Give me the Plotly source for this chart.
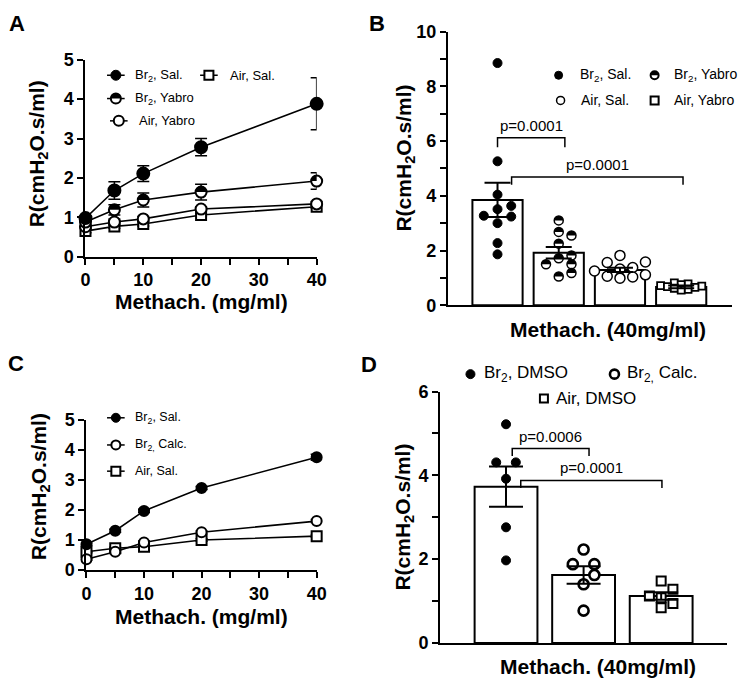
import plotly.graph_objects as go

# page has an 8px body margin; figure is sized so the page is exactly 750x691
PAGE_W, PAGE_H, BODY_M = 750, 691, 8
FW, FH = PAGE_W - 2 * BODY_M, PAGE_H - 2 * BODY_M
FONT = "Liberation Sans, Arial, Helvetica, sans-serif"

# ---------------- data ----------------
dose = [0, 5, 10, 20, 40]

# Panel A (mean +/- SEM)
a_br2_sal = [0.98, 1.68, 2.11, 2.78, 3.88]
a_br2_sal_err = [0.06, 0.22, 0.20, 0.22, 0.66]
a_br2_yab = [0.88, 1.19, 1.44, 1.64, 1.92]
a_br2_yab_err = [0.05, 0.13, 0.18, 0.20, 0.21]
a_air_yab = [0.76, 0.88, 0.96, 1.21, 1.34]
a_air_yab_err = [0.05, 0.08, 0.06, 0.05, 0.05]
a_air_sal = [0.65, 0.77, 0.83, 1.06, 1.27]
a_air_sal_err = [0.04, 0.05, 0.05, 0.04, 0.04]

# Panel B (individual animals at 40 mg/ml)
b_groups = ["Br<sub>2</sub>, Sal.", "Br<sub>2</sub>, Yabro", "Air, Sal.", "Air, Yabro"]
b_br2_sal = [8.85, 5.26, 4.04, 3.63, 3.51, 3.27, 3.24, 3.00, 2.27, 1.86]
b_br2_yab = [3.10, 2.68, 2.55, 2.25, 1.82, 1.72, 1.50, 1.50, 1.18, 1.05]
b_air_sal = [1.82, 1.58, 1.56, 1.38, 1.32, 1.25, 1.11, 1.06, 1.03, 0.99]
b_air_yab = [0.82, 0.78, 0.75, 0.72, 0.70, 0.68, 0.65, 0.62, 0.58, 0.55]
b_mean = [3.85, 1.92, 1.29, 0.67]
b_sem = [0.63, 0.21, 0.08, 0.05]
b_pvals = ["p=0.0001", "p=0.0001"]
# bracket: left x, right x, bar height, left tip, right tip (data units)
b_brackets = [(0.0, 1.1, 6.12, 5.77, 5.77), (0.23, 3.03, 4.69, 4.40, 4.40)]

# Panel C (mean +/- SEM)
c_br2_sal = [0.86, 1.31, 1.97, 2.73, 3.75]
c_br2_sal_err = [0.04, 0.05, 0.05, 0.05, 0.10]
c_br2_calc = [0.36, 0.61, 0.92, 1.26, 1.63]
c_br2_calc_err = [0.03, 0.04, 0.05, 0.04, 0.05]
c_air_sal = [0.61, 0.73, 0.78, 1.00, 1.13]
c_air_sal_err = [0.03, 0.03, 0.04, 0.04, 0.04]

# Panel D
d_groups = ["Br<sub>2</sub>, DMSO", "Br<sub>2,</sub> Calc.", "Air, DMSO"]
d_br2_dmso = [5.22, 4.31, 4.31, 3.92, 2.76, 1.97]
d_br2_calc = [2.23, 1.88, 1.88, 1.62, 1.40, 0.77]
d_air_dmso = [1.48, 1.28, 1.12, 1.08, 0.94, 0.84]
d_mean = [3.73, 1.62, 1.12]
d_sem = [0.48, 0.21, 0.09]
d_pvals = ["p=0.0006", "p=0.0001"]
d_brackets = [(0.08, 1.07, 4.64, 4.46, 4.46), (0.19, 2.01, 3.88, 3.70, 3.70)]

# ---------------- geometry (page pixels) ----------------
A_X, A_Y = (82, 318), (254, 51)
B_X, B_Y = (452, 742), (304, 22)
C_X, C_Y = (83, 318), (577, 422)
D_X, D_Y = (444, 737), (652, 393)
B_XR, B_YR = [-0.81, 3.83], [0, 10]
D_XR, D_YR = [-0.85, 2.85], [0, 6]


def px(x):
    return min(1.0, max(0.0, (x - BODY_M) / FW))


def py(y):
    return min(1.0, max(0.0, 1 - (y - BODY_M) / FH))


def swarm(vals, diam_px, ppu_x, ppu_y, step_px, factor=0.95):
    """Column-scatter layout: ascending values, centre first, then right, then left;
    tied values are spread symmetrically."""
    cands = [0.0]
    for m in range(1, 12):
        cands += [m * step_px, -m * step_px]
    placed = []
    offs = [0.0] * len(vals)
    for v in sorted(set(vals)):
        idx = [i for i, w in enumerate(vals) if w == v]
        n = len(idx)
        yy = v * ppu_y
        if n == 1:
            chosen = [0.0]
            for c in cands:
                if all((c - ox) ** 2 + (yy - oy) ** 2 >= (diam_px * factor) ** 2
                       for ox, oy in placed):
                    chosen = [c]
                    break
        else:
            sym = [s * m * step_px for m in range(1, n + 1) for s in (1, -1)]
            chosen = ([0.0] + sym)[:n] if n % 2 else sym[:n]
        for i, c in zip(idx, chosen):
            placed.append((c, yy))
            offs[i] = c / ppu_x
    return offs


b_ppx = (B_X[1] - B_X[0]) / (B_XR[1] - B_XR[0])
b_ppy = (B_Y[0] - B_Y[1]) / (B_YR[1] - B_YR[0])
d_ppx = (D_X[1] - D_X[0]) / (D_XR[1] - D_XR[0])
d_ppy = (D_Y[0] - D_Y[1]) / (D_YR[1] - D_YR[0])

fig = go.Figure()
annotations = []
shapes = []
K = 0.5523


def half_disc(xa, ya, xref, yref, r):
    k = K * r
    path = (f"M {-r},0 C {-r},{k} {-k},{r} 0,{r} "
            f"C {k},{r} {r},{k} {r},0 Z")
    return dict(type="path", xref=xref, yref=yref, xsizemode="pixel", ysizemode="pixel",
                xanchor=xa, yanchor=ya, path=path, fillcolor="black",
                line=dict(width=0), layer="above")


# ---------------- Panel A ----------------
a_series = [
    (a_air_sal, a_air_sal_err, "square", "white", 10),
    (a_air_yab, a_air_yab_err, "circle", "white", 11),
    (a_br2_yab, a_br2_yab_err, "circle", "white", 11),
    (a_br2_sal, a_br2_sal_err, "circle", "black", 12),
]
for vals, err, sym, fill, size in a_series:
    fig.add_trace(go.Scatter(
        x=dose, y=vals, mode="lines+markers", showlegend=False,
        line=dict(color="black", width=1.6),
        marker=dict(symbol=sym, size=size, color=fill, line=dict(color="black", width=2)),
        error_y=dict(type="data", array=err, color="black", thickness=1.5, width=6),
        xaxis="x", yaxis="y", cliponaxis=False))
for xv, yv in zip(dose, a_br2_yab):
    shapes.append(half_disc(xv, yv, "x", "y", 5.5))

# ---------------- Panel B ----------------
fig.add_trace(go.Bar(x=list(range(4)), y=b_mean, width=0.82, showlegend=False,
                     marker=dict(color="white", line=dict(color="black", width=2)),
                     xaxis="x2", yaxis="y2"))
b_pts = [
    (b_br2_sal, "circle", "black", 9, 1.0, 14, 0.95),
    (b_br2_yab, "circle", "white", 9, 1.5, 13, 0.95),
    (b_air_sal, "circle", "white", 10, 1.5, 13, 0.9),
    (b_air_yab, "square", "white", 7, 1.8, 7, 0.8),
]
for gi, (vals, sym, fill, size, lw, step, fac) in enumerate(b_pts):
    offs = swarm(vals, size, b_ppx, b_ppy, step, fac)
    xs = [gi + o for o in offs]
    fig.add_trace(go.Scatter(
        x=xs, y=vals, name=b_groups[gi], mode="markers", showlegend=False,
        marker=dict(symbol=sym, size=size, color=fill, line=dict(color="black", width=lw)),
        xaxis="x2", yaxis="y2", cliponaxis=False))
    if gi == 1:
        for xv, yv in zip(xs, vals):
            shapes.append(half_disc(xv, yv, "x2", "y2", 4.5))
fig.add_trace(go.Scatter(
    x=list(range(4)), y=b_mean, mode="markers", showlegend=False,
    marker=dict(size=1, color="rgba(0,0,0,0)"),
    error_y=dict(type="data", array=b_sem, color="black", thickness=2, width=13),
    xaxis="x2", yaxis="y2", hoverinfo="skip"))
for (x0, x1, yb, t0, t1), ptxt in zip(b_brackets, b_pvals):
    shapes.append(dict(type="path", xref="x2", yref="y2",
                       path=f"M {x0},{t0} L {x0},{yb} L {x1},{yb} L {x1},{t1}",
                       line=dict(color="black", width=1.5)))
    annotations.append(dict(x=(x0 + x1) / 2, y=yb, xref="x2", yref="y2", text=ptxt,
                            showarrow=False, yanchor="bottom", yshift=2,
                            font=dict(family=FONT, size=15, color="black")))

# ---------------- Panel C ----------------
c_series = [
    (c_air_sal, c_air_sal_err, "square", "white", 10),
    (c_br2_calc, c_br2_calc_err, "circle", "white", 10),
    (c_br2_sal, c_br2_sal_err, "circle", "black", 10),
]
for vals, err, sym, fill, size in c_series:
    fig.add_trace(go.Scatter(
        x=dose, y=vals, mode="lines+markers", showlegend=False,
        line=dict(color="black", width=1.6),
        marker=dict(symbol=sym, size=size, color=fill, line=dict(color="black", width=2)),
        error_y=dict(type="data", array=err, color="black", thickness=1.5, width=6),
        xaxis="x3", yaxis="y3", cliponaxis=False))

# ---------------- Panel D ----------------
fig.add_trace(go.Bar(x=list(range(3)), y=d_mean, width=0.81, showlegend=False,
                     marker=dict(color="white", line=dict(color="black", width=2)),
                     xaxis="x4", yaxis="y4"))
d_pts = [
    (d_br2_dmso, "circle", "black", 9, 1.0, 10),
    (d_br2_calc, "circle", "white", 10, 2.6, 11),
    (d_air_dmso, "square", "white", 9, 2.0, 12),
]
for gi, (vals, sym, fill, size, lw, step) in enumerate(d_pts):
    offs = swarm(vals, size + 1, d_ppx, d_ppy, step)
    xs = [gi + o for o in offs]
    fig.add_trace(go.Scatter(
        x=xs, y=vals, name=d_groups[gi], mode="markers", showlegend=False,
        marker=dict(symbol=sym, size=size, color=fill, line=dict(color="black", width=lw)),
        xaxis="x4", yaxis="y4", cliponaxis=False))
fig.add_trace(go.Scatter(
    x=list(range(3)), y=d_mean, mode="markers", showlegend=False,
    marker=dict(size=1, color="rgba(0,0,0,0)"),
    error_y=dict(type="data", array=d_sem, color="black", thickness=2, width=17),
    xaxis="x4", yaxis="y4", hoverinfo="skip"))
for (x0, x1, yb, t0, t1), ptxt in zip(d_brackets, d_pvals):
    shapes.append(dict(type="path", xref="x4", yref="y4",
                       path=f"M {x0},{t0} L {x0},{yb} L {x1},{yb} L {x1},{t1}",
                       line=dict(color="black", width=1.5)))
    annotations.append(dict(x=(x0 + x1) / 2, y=yb, xref="x4", yref="y4", text=ptxt,
                            showarrow=False, yanchor="bottom", yshift=2,
                            font=dict(family=FONT, size=15, color="black")))

# ---------------- axes ----------------
tickfont = dict(family=FONT, size=18, color="black", weight="bold")
base = dict(showline=True, linecolor="black", linewidth=2, showgrid=False, zeroline=False,
            ticks="outside", tickcolor="black", tickwidth=2, ticklen=6, tickfont=tickfont,
            fixedrange=True)
minor5 = dict(dtick=5, ticks="outside", ticklen=6, tickwidth=2, tickcolor="black", showgrid=False)
minor1 = dict(dtick=1, ticks="outside", ticklen=6, tickwidth=2, tickcolor="black", showgrid=False)
catx = dict(showline=True, linecolor="black", linewidth=2, showgrid=False, zeroline=False,
            ticks="", showticklabels=False, fixedrange=True)

fig.update_layout(
    xaxis=dict(base, domain=[px(A_X[0]), px(A_X[1])], range=[0, 40], dtick=10, tick0=0,
               minor=minor5, anchor="y"),
    yaxis=dict(base, domain=[py(A_Y[0]), py(A_Y[1])], range=[0, 5], dtick=1, anchor="x"),
    xaxis2=dict(catx, domain=[px(B_X[0]), px(B_X[1])], range=B_XR, anchor="y2"),
    yaxis2=dict(base, domain=[py(B_Y[0]), py(B_Y[1])], range=B_YR, dtick=2, minor=minor1,
                anchor="x2"),
    xaxis3=dict(base, domain=[px(C_X[0]), px(C_X[1])], range=[0, 40], dtick=10, tick0=0,
                minor=minor5, anchor="y3"),
    yaxis3=dict(base, domain=[py(C_Y[0]), py(C_Y[1])], range=[0, 5], dtick=1, anchor="x3"),
    xaxis4=dict(catx, domain=[px(D_X[0]), px(D_X[1])], range=D_XR, anchor="y4"),
    yaxis4=dict(base, domain=[py(D_Y[0]), py(D_Y[1])], range=D_YR, dtick=2, minor=minor1,
                anchor="x4"),
)

# ---------------- legends (keys + labels) ----------------
# (label, key x, key y, label x, font size, key style, key size, with line)
legend_items = [
    ("Br<sub>2</sub>, Sal.", 113, 67, 130, 13, "dot", 10, True),
    ("Air, Sal.", 208, 67, 227, 13, "square", 9, True),
    ("Br<sub>2</sub>, Yabro", 113, 91, 130, 13, "half", 10, True),
    ("Air, Yabro", 116, 114, 135, 13, "open", 10, True),
    ("Br<sub>2</sub>, Sal.", 565, 67, 585, 14, "dot", 8, False),
    ("Br<sub>2</sub>, Yabro", 663, 67, 681, 14, "half", 8, False),
    ("Air, Sal.", 567, 93, 586, 14, "openthin", 8, False),
    ("Air, Yabro", 663, 93, 681, 14, "square", 8, False),
    ("Br<sub>2</sub>, Sal.", 113, 420, 130, 12.5, "dot", 9, True),
    ("Br<sub>2,</sub> Calc.", 113, 448, 130, 12.5, "open", 9, True),
    ("Air, Sal.", 113, 475, 130, 12.5, "square", 9, True),
    ("Br<sub>2</sub>, DMSO", 475, 375, 487, 17, "dot", 9, False),
    ("Br<sub>2,</sub> Calc.", 622, 375, 633, 17, "openthick", 9, False),
    ("Air, DMSO", 550, 400, 560, 17, "square", 8, False),
]
for label, kx, ky, lx, fs, style, ksz, with_line in legend_items:
    xa, ya = px(kx), py(ky)
    r = ksz / 2
    if with_line:
        shapes.append(dict(type="line", xref="paper", yref="paper",
                           x0=px(kx - 9), x1=px(kx + 9), y0=ya, y1=ya,
                           line=dict(color="black", width=1.5)))
    common = dict(xref="paper", yref="paper", xsizemode="pixel", ysizemode="pixel",
                  xanchor=xa, yanchor=ya, x0=-r, x1=r, y0=-r, y1=r)
    if style == "dot":
        shapes.append(dict(common, type="circle", fillcolor="black",
                           line=dict(color="black", width=1)))
    elif style == "square":
        shapes.append(dict(common, type="rect", fillcolor="white",
                           line=dict(color="black", width=2)))
    else:
        lw = {"openthin": 1.5, "openthick": 2.6}.get(style, 2)
        shapes.append(dict(common, type="circle", fillcolor="white",
                           line=dict(color="black", width=lw)))
        if style == "half":
            shapes.append(half_disc(xa, ya, "paper", "paper", r))
    annotations.append(dict(x=px(lx), y=ya, xref="paper", yref="paper", text=label,
                            showarrow=False, xanchor="left", yanchor="middle",
                            font=dict(family=FONT, size=fs, color="black")))

# ---------------- titles & panel letters ----------------
ytitle = "R(cmH<sub>2</sub>O.s/ml)"
title_font = dict(family=FONT, size=21, color="black", weight="bold")
for tx, ty, txt, ang in [
    (33, 148, ytitle, -90), (200, 300, "Methach. (mg/ml)", 0),
    (408, 152, ytitle, -90), (615, 329, "Methach. (40mg/ml)", 0),
    (35, 491, ytitle, -90), (200, 625, "Methach. (mg/ml)", 0),
    (407, 522, ytitle, -90), (605, 676, "Methach. (40mg/ml)", 0),
]:
    annotations.append(dict(x=px(tx), y=py(ty), xref="paper", yref="paper", text=txt,
                            textangle=ang, showarrow=False, xanchor="center", yanchor="middle",
                            font=title_font))
for tx, ty, txt in [(12, 14, "A"), (380, 14, "B"), (11, 364, "C"), (371, 365, "D")]:
    annotations.append(dict(x=px(tx), y=py(ty), xref="paper", yref="paper", text=txt,
                            showarrow=False, xanchor="center", yanchor="middle",
                            font=dict(family=FONT, size=22, color="black", weight="bold")))

fig.update_layout(width=FW, height=FH, margin=dict(l=0, r=0, t=0, b=0),
                  paper_bgcolor="white", plot_bgcolor="white",
                  annotations=annotations, shapes=shapes, showlegend=False)

fig.write_html("out.html")
